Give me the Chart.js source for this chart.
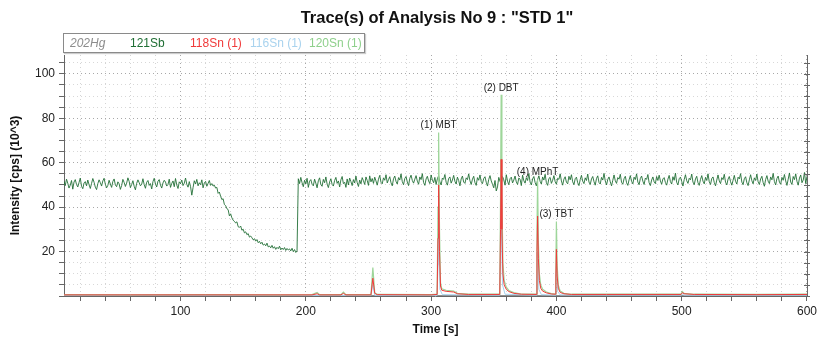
<!DOCTYPE html>
<html>
<head>
<meta charset="utf-8">
<script src="https://cdn.jsdelivr.net/npm/chart.js@4.4.1/dist/chart.umd.min.js"></script>
<style>
  body { margin: 0; background: #fff; font-family: "Liberation Sans", Arial, sans-serif; }
  #wrap { position: relative; width: 820px; height: 341px; }
  #title { position: absolute; left: 64px; width: 746px; top: 8px; text-align: center; font-weight: bold; font-size: 16.5px; color: #111; }
  #legend { position: absolute; left: 63px; top: 33px; width: 300px; height: 18px; border: 1px solid #8a8a8a; box-shadow: 1px 1px 1px #ccc; font-size: 12px; }
  #legend span { position: absolute; top: 2px; }
</style>
</head>
<body>
<div id="wrap">
  <canvas id="chart" width="820" height="341"></canvas>
  <div id="title">Trace(s) of Analysis No 9 : "STD 1"</div>
  <div id="legend"></div>
</div>
<script>
"use strict";

// 121Sb, one reading per second from 7 s to 600 s
const sbStart = 7;
const sbStep = 1;
const sbValues = [
  51.7, 49.7, 52.6, 50.8, 48.6, 49.9, 52.0, 48.1, 51.3, 52.4, 50.2, 49.1, 51.1, 53.1, 49.4, 48.3, 50.9, 51.5, 49.6, 52.2,
  50.1, 48.4, 50.7, 52.9, 51.2, 49.0, 47.9, 50.6, 52.3, 51.0, 49.5, 51.8, 53.0, 50.3, 48.7, 49.8, 52.1, 50.4, 48.9, 51.6,
  52.7, 50.0, 49.2, 51.4, 50.5, 48.0, 49.7, 52.5, 51.1, 49.3, 50.8, 53.2, 51.6, 48.8, 50.2, 51.9, 49.4, 47.8, 50.7, 52.3,
  51.0, 49.6, 50.3, 52.8, 50.1, 48.5, 51.2, 52.0, 49.8, 50.6, 48.2, 51.5, 53.0, 50.4, 49.1, 51.7, 52.4, 49.9, 48.6, 50.9,
  52.1, 51.3, 49.5, 50.2, 52.6, 48.9, 50.7, 51.8, 49.2, 52.9, 50.0, 48.4, 51.4, 50.6, 52.2, 49.7, 50.8, 53.1, 50.3, 49.0,
  51.5, 49.3, 45.4, 48.8, 51.9, 50.4, 52.5, 49.6, 51.0, 50.1, 52.3, 48.7, 50.9, 51.6, 49.4, 50.7, 52.0, 49.8, 50.6, 49.5,
  49.9, 48.6, 48.9, 46.2, 46.8, 44.9, 43.4, 43.8, 41.2, 40.7, 39.3, 38.9, 36.1, 37.0, 35.2, 34.1, 33.6, 32.9, 33.4, 31.2,
  30.9, 31.5, 29.6, 30.1, 28.4, 28.9, 27.6, 28.1, 26.5, 27.0, 26.2, 25.3, 25.8, 24.7, 25.4, 24.0, 24.6, 23.5, 24.2, 22.9,
  23.4, 22.6, 23.8, 22.1, 22.5, 21.7, 22.8, 21.5, 22.2, 21.0, 21.9, 21.3, 22.4, 20.8, 21.6, 20.9, 21.8, 20.5, 21.4, 20.7,
  21.2, 20.3, 21.5, 20.0, 20.9, 19.6, 20.4, 52.8, 50.6, 53.4, 51.0, 49.2, 52.1, 50.5, 53.0, 48.9, 51.7, 52.4, 50.3, 49.6,
  52.6, 50.8, 48.7, 51.9, 53.2, 50.1, 49.4, 52.5, 51.0, 53.6, 50.4, 48.8, 51.3, 52.8, 50.2, 49.5, 52.0, 53.4, 50.7, 51.8,
  49.1, 52.3, 53.8, 50.6, 51.2, 48.9, 52.7, 50.0, 53.1, 51.5, 49.7, 52.4, 50.9, 54.0, 51.1, 49.3, 52.2, 50.5, 53.3, 51.9,
  50.2, 53.6, 52.0, 49.8, 54.1, 51.4, 52.9, 50.7, 53.5, 51.8, 49.9, 52.6, 54.3, 51.2, 50.5, 53.2, 52.1, 54.6, 50.9, 52.4,
  53.7, 51.0, 49.6, 52.8, 54.0, 51.6, 50.4, 53.3, 52.2, 55.0, 51.5, 50.1, 52.9, 53.8, 51.3, 49.7, 53.0, 54.4, 52.0, 50.8,
  52.6, 54.2, 51.7, 50.3, 53.6, 52.4, 55.1, 51.1, 49.8, 52.7, 53.9, 51.8, 50.6, 54.5, 52.3, 51.0, 53.4, 50.2, 52.8, 54.1,
  51.4, 50.0, 53.1, 52.5, 54.7, 51.2, 49.9, 52.9, 53.6, 50.8, 52.2, 54.3, 51.6, 50.4, 53.5, 52.0, 49.6, 52.7, 54.0, 51.3,
  50.7, 53.2, 52.4, 55.0, 51.9, 50.2, 52.6, 53.9, 51.0, 49.8, 53.3, 52.1, 54.5, 51.5, 50.6, 52.9, 53.7, 51.2, 49.5, 52.5,
  54.2, 51.8, 50.3, 48.7, 52.0, 47.3, 49.1, 53.4, 51.6, 50.5, 53.8, 52.3, 49.9, 54.6, 51.7, 50.1, 52.8, 53.5, 50.9, 52.2,
  54.0, 51.4, 50.2, 53.1, 52.6, 49.7, 54.4, 51.9, 50.8, 53.3, 52.0, 55.1, 51.3, 50.0, 52.7, 53.8, 51.1, 49.6, 52.4, 54.1,
  51.6, 50.4, 53.6, 52.2, 54.8, 51.0, 49.8, 52.9, 53.4, 50.7, 52.1, 54.2, 51.5, 50.3, 53.0, 52.5, 55.0, 51.8, 49.9, 52.6,
  53.7, 51.2, 50.5, 53.9, 52.3, 54.6, 51.4, 50.1, 52.8, 53.5, 51.0, 49.7, 52.4, 54.3, 51.7, 50.6, 53.2, 52.0, 54.9, 51.3,
  50.2, 52.7, 53.8, 51.5, 49.9, 52.9, 54.1, 51.1, 50.4, 53.4, 52.2, 55.2, 51.8, 50.0, 52.5, 53.6, 51.4, 49.6, 52.1, 54.5,
  51.9, 50.7, 53.3, 52.6, 54.8, 51.2, 50.3, 52.8, 53.9, 51.0, 49.8, 52.3, 54.2, 51.6, 50.5, 53.5, 52.4, 55.0, 51.3, 50.1,
  52.9, 54.0, 51.7, 50.2, 53.1, 52.5, 54.7, 51.0, 49.7, 52.2, 53.6, 51.4, 50.6, 53.8, 52.0, 54.4, 51.8, 50.3, 52.7, 53.3,
  51.1, 49.9, 52.6, 54.3, 51.5, 50.4, 53.7, 52.1, 55.3, 51.2, 50.0, 52.8, 53.5, 51.6, 49.5, 52.4, 54.6, 51.9, 50.7, 53.0,
  52.3, 54.9, 51.3, 50.1, 52.7, 53.9, 51.0, 49.8, 52.5, 54.2, 51.7, 50.5, 53.4, 52.0, 55.0, 51.4, 50.2, 52.9, 53.6, 51.1,
  49.6, 52.2, 54.5, 51.8, 50.6, 53.3, 52.4, 54.8, 51.2, 50.0, 52.6, 53.8, 51.5, 49.9, 52.1, 54.3, 51.6, 50.4, 53.5, 52.7,
  55.1, 51.3, 50.1, 52.8, 53.7, 51.0, 49.7, 52.3, 54.6, 51.9, 50.5, 53.2, 52.0, 54.9, 51.4, 50.2, 52.7, 53.9, 51.1, 49.4,
  52.5, 54.2, 51.7, 50.6, 53.6, 52.3, 55.2, 51.5, 50.0, 52.9, 54.0, 51.2, 50.3, 53.4, 52.1, 54.7, 51.8, 49.8, 52.6, 55.4,
  51.3, 50.2, 53.8, 52.4, 55.0, 51.6, 49.9, 53.1, 54.5, 51.0, 52.2, 55.6, 50.6, 53.9
];

// 120Sn (1)
const sn120Times = [7, 60, 120, 180, 205, 209, 211, 228, 230, 232, 252, 253.5, 255, 257, 300,
  304.8, 305.5, 306, 306.7, 307.5, 308.5, 312, 318, 321, 330,
  354.8, 355.4, 355.9, 356.5, 357.3, 358.3, 360, 362, 366, 372,
  383.9, 384.5, 385, 385.6, 386.4, 387.5, 389, 392, 396,
  399.2, 399.6, 400, 400.6, 401.5, 403, 406, 412, 440, 499.5, 500.5, 502, 510, 560, 600];
const sn120Values = [0.6, 0.5, 0.6, 0.5, 0.6, 1.6, 0.6, 0.6, 1.8, 0.6, 0.6, 12.8, 1.5, 0.7, 0.6,
  0.8, 40, 73.6, 30, 6, 3.2, 2.6, 2.2, 1.2, 0.8,
  0.8, 45, 90.6, 45, 15, 7, 4, 2.5, 1.5, 0.9,
  0.8, 30, 52.4, 25, 10, 5, 3, 1.8, 1.1,
  0.9, 15, 33.5, 14, 5, 2.2, 1.2, 0.8, 0.8, 0.8, 2.0, 1.2, 0.8, 0.7, 0.8];

// 118Sn (1)
const sn118Times = [7, 60, 120, 180, 205, 209, 211, 228, 230, 232, 252, 253.5, 255, 257, 300,
  304.8, 305.5, 306, 306.7, 307.5, 308.5, 312, 318, 321, 330,
  354.8, 355.4, 355.9, 356.5, 357.3, 358.3, 360, 362, 366, 372,
  383.9, 384.5, 385, 385.6, 386.4, 387.5, 389, 392, 396,
  399.2, 399.6, 400, 400.6, 401.5, 403, 406, 412, 440, 499.5, 500.5, 502, 510, 560, 600];
const sn118Values = [0.5, 0.5, 0.5, 0.5, 0.5, 1.0, 0.5, 0.5, 1.2, 0.5, 0.5, 8.0, 1.2, 0.6, 0.5,
  0.7, 26, 50, 20, 4.5, 2.6, 2.1, 1.8, 1.0, 0.7,
  0.7, 30, 61.5, 30, 10, 5, 3, 2, 1.2, 0.8,
  0.7, 20, 36, 17, 7, 3.5, 2.2, 1.4, 0.9,
  0.8, 9, 21, 9, 3.5, 1.6, 1.0, 0.7, 0.7, 0.7, 1.5, 1.0, 0.7, 0.6, 0.7];

// 116Sn (1)
const sn116Times = [7, 252, 253.5, 255, 304.8, 305.5, 306, 307, 309, 354.8, 355.4, 355.9, 357, 359,
  383.9, 384.5, 385, 386, 388, 399.2, 399.6, 400, 401, 403, 499.5, 500.5, 502, 600];
const sn116Values = [0.3, 0.3, 5, 0.3, 0.3, 14, 28, 3, 0.6, 0.4, 18, 35, 5, 0.8,
  0.4, 9, 20, 3, 0.6, 0.4, 6, 13, 2, 0.5, 0.4, 0.8, 0.4, 0.4];

// 202Hg
const hgTimes = [7, 600];
const hgValues = [0.2, 0.2];

// peak labels
const peakNames = ['(1) MBT', '(2) DBT', '(4) MPhT', '(3) TBT'];
const peakTimes = [306, 355.9, 385, 400];
const peakTops = [73.6, 90.6, 52.4, 33.5];

const legendItems = [
  { text: '202Hg', color: '#8c8c8c', left: 6, italic: true },
  { text: '121Sb', color: '#1f6e34', left: 66 },
  { text: '118Sn (1)', color: '#f03a3a', left: 126 },
  { text: '116Sn (1)', color: '#a9d3ee', left: 186 },
  { text: '120Sn (1)', color: '#8fd08c', left: 245 }
];

const legend = document.getElementById('legend');
legendItems.forEach(item => {
  const s = document.createElement('span');
  s.textContent = item.text;
  s.style.color = item.color;
  s.style.left = item.left + 'px';
  if (item.italic) s.style.fontStyle = 'italic';
  legend.appendChild(s);
});

function toPoints(times, values) {
  return times.map((t, i) => ({ x: t, y: values[i] }));
}

const sbPoints = sbValues.map((v, i) => ({ x: sbStart + i * sbStep, y: v }));

const peakLabels = {
  id: 'peakLabels',
  afterDatasetsDraw(chart) {
    const ctx = chart.ctx;
    const xs = chart.scales.x, ys = chart.scales.y;
    ctx.save();
    ctx.font = '10px "Liberation Sans", Arial, sans-serif';
    ctx.fillStyle = '#222';
    ctx.textAlign = 'center';
    ctx.textBaseline = 'bottom';
    peakNames.forEach((name, i) => {
      ctx.fillText(name, xs.getPixelForValue(peakTimes[i]), ys.getPixelForValue(peakTops[i]) - 2);
    });
    ctx.restore();
  }
};

// right frame line with small ticks
const rightFrame = {
  id: 'rightFrame',
  afterDraw(chart) {
    const ctx = chart.ctx;
    const a = chart.chartArea;
    const ys = chart.scales.y;
    ctx.save();
    ctx.strokeStyle = '#666';
    ctx.lineWidth = 1;
    ctx.beginPath();
    ctx.moveTo(a.right + 0.5, a.top);
    ctx.lineTo(a.right + 0.5, a.bottom);
    ys.ticks.forEach(t => {
      const y = Math.round(ys.getPixelForValue(t.value)) + 0.5;
      ctx.moveTo(a.right - 3, y);
      ctx.lineTo(a.right + 3, y);
    });
    ctx.stroke();
    ctx.restore();
  }
};

const font = { family: '"Liberation Sans", Arial, sans-serif', size: 12 };

new Chart(document.getElementById('chart'), {
  type: 'line',
  data: {
    datasets: [
      { label: '118Sn (1)', data: toPoints(sn118Times, sn118Values), borderColor: '#f03a3a', borderWidth: 1, order: 0 },
      { label: '120Sn (1)', data: toPoints(sn120Times, sn120Values), borderColor: '#9ed69a', borderWidth: 1.2, order: 1 },
      { label: '116Sn (1)', data: toPoints(sn116Times, sn116Values), borderColor: '#a9d3ee', borderWidth: 1, order: 2 },
      { label: '121Sb', data: sbPoints, borderColor: '#226f37', borderWidth: 0.9, order: 3 },
      { label: '202Hg', data: toPoints(hgTimes, hgValues), borderColor: '#8c8c8c', borderWidth: 1, order: 4 }
    ]
  },
  options: {
    responsive: false,
    animation: false,
    devicePixelRatio: 1,
    layout: { padding: { top: 55, right: 10, left: 0, bottom: 0 } },
    elements: { point: { radius: 0 }, line: { tension: 0 } },
    plugins: { legend: { display: false }, tooltip: { enabled: false } },
    scales: {
      x: {
        type: 'linear',
        min: 7,
        max: 600,
        afterFit: s => { s.height = 45; },
        ticks: {
          stepSize: 20,
          includeBounds: false,
          autoSkip: false,
          maxRotation: 0,
          padding: 3,
          color: '#222',
          font: font,
          callback: v => (v % 100 === 0 ? v : '')
        },
        grid: {
          color: c => (c.tick && c.tick.value % 100 === 0 ? '#a8a8a8' : '#d4d4d4'),
          tickColor: '#666',
          tickLength: 5,
          tickBorderDash: []
        },
        border: { color: '#666', dash: [1, 3] },
        title: { display: true, text: 'Time [s]', color: '#111', font: { ...font, weight: 'bold' }, padding: { top: 2 } }
      },
      y: {
        min: 0,
        max: 108.5,
        afterFit: s => { s.width = 64; },
        ticks: {
          stepSize: 5,
          includeBounds: false,
          autoSkip: false,
          padding: 4,
          color: '#222',
          font: font,
          callback: v => (v % 20 === 0 && v > 0 ? v : '')
        },
        grid: {
          color: c => (c.tick && c.tick.value % 20 === 0 ? '#a8a8a8' : '#d8d8d8'),
          tickColor: '#666',
          tickLength: 5,
          tickBorderDash: []
        },
        border: { color: '#666', dash: [1, 3] },
        title: { display: true, text: 'Intensity [cps] (10^3)', color: '#111', font: { ...font, weight: 'bold' }, padding: { top: 8, bottom: 0 } }
      }
    }
  },
  plugins: [peakLabels, rightFrame]
});
</script>
</body>
</html>
